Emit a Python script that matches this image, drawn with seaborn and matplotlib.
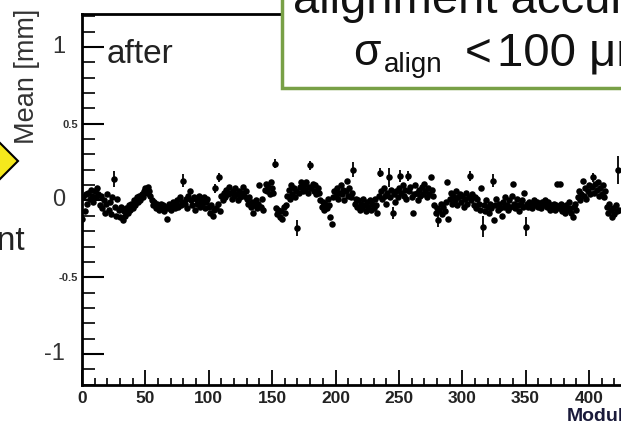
import numpy as np
import pandas as pd
import seaborn as sns
import matplotlib.pyplot as plt
from matplotlib.patches import Rectangle, Polygon
from matplotlib.ticker import MultipleLocator

mean_mm = [
    -0.12, 0.02, -0.07, 0.04, -0.02, 0.05, 0.01, 0.07, 0.03, -0.01, 0.06, 0.02, 0.08, 0.04, -0.03, 0.03, -0.05, 0.0, -0.08, -0.02, 0.04, -0.06, -0.01, -0.09, 0.02,
    0.14, -0.04, -0.1, 0.01, -0.06, -0.11, -0.04, -0.13, -0.07, -0.1, -0.05, -0.08, -0.03, -0.06, -0.02, -0.05, 0.0, -0.03, 0.02, -0.01, 0.03, 0.0, 0.04, 0.02, 0.06,
    0.08, 0.05, 0.09, 0.06, 0.03, 0.0, -0.03, -0.01, -0.05, -0.02, -0.04, -0.06, -0.02, -0.05, -0.03, -0.07, -0.04, -0.12, -0.05, -0.02, -0.06, -0.03, -0.01, -0.05, -0.02,
    0.0, -0.04, 0.02, -0.03, -0.01, 0.13, -0.02, 0.01, -0.05, 0.03, 0.06, 0.0, -0.03, 0.02, -0.06, 0.01, -0.02, 0.03, -0.04, 0.0, -0.02, 0.02, -0.05, -0.01, 0.01,
    -0.04, -0.08, -0.03, -0.1, -0.06, 0.08, -0.05, -0.02, 0.15, -0.07, 0.03, 0.0, 0.05, 0.02, 0.07, 0.04, 0.09, 0.05, 0.01, 0.06, 0.03, 0.08, 0.04, 0.0, 0.06,
    0.02, 0.05, 0.09, 0.03, 0.06, 0.01, -0.02, 0.02, -0.04, -0.01, -0.08, -0.03, 0.0, -0.05, -0.02, 0.1, -0.04, 0.01, -0.06, 0.07, 0.11, 0.06, 0.09, 0.04, 0.12,
    0.08, 0.05, 0.24, -0.05, -0.09, -0.06, -0.11, -0.07, -0.12, -0.04, -0.08, -0.03, 0.03, 0.07, 0.01, 0.1, 0.04, 0.08, 0.02, 0.06, -0.18, 0.05, 0.09, 0.12, 0.06,
    0.1, 0.07, 0.12, 0.05, 0.09, 0.23, 0.08, 0.11, 0.06, 0.1, 0.04, 0.08, 0.05, 0.0, -0.04, -0.01, -0.06, -0.02, -0.05, 0.01, -0.03, -0.11, -0.15, 0.02, 0.06,
    0.03, 0.08, 0.01, 0.05, 0.1, 0.04, 0.07, 0.0, 0.06, 0.13, 0.03, 0.08, 0.02, 0.05, 0.2, -0.02, 0.01, -0.04, 0.0, -0.06, -0.02, -0.05, 0.01, -0.03, -0.07,
    -0.01, -0.04, 0.0, -0.06, -0.02, -0.05, 0.01, -0.03, -0.08, 0.03, 0.18, 0.06, 0.01, 0.08, 0.03, -0.02, 0.05, 0.15, 0.02, 0.07, -0.08, 0.04, -0.01, 0.06, 0.02,
    0.08, 0.16, 0.05, 0.1, 0.03, 0.07, 0.01, 0.16, 0.06, 0.09, 0.02, -0.08, 0.04, 0.1, 0.05, 0.0, 0.07, 0.03, 0.09, 0.04, 0.11, 0.06, 0.02, 0.08, 0.04,
    0.15, 0.07, 0.03, -0.03, -0.08, -0.05, -0.13, -0.06, -0.02, -0.09, -0.04, -0.07, -0.01, 0.12, -0.12, 0.01, 0.05, -0.02, 0.03, 0.0, 0.06, -0.03, 0.02, 0.04, -0.01,
    0.03, -0.04, 0.01, 0.05, -0.02, 0.02, 0.16, 0.0, 0.04, -0.03, 0.02, -0.05, 0.01, -0.02, -0.06, 0.08, -0.17, -0.03, -0.07, 0.0, -0.04, -0.08, -0.02, -0.05, 0.13,
    -0.13, -0.03, 0.01, -0.06, -0.02, -0.05, -0.1, -0.01, -0.04, 0.02, -0.03, -0.06, 0.0, -0.04, 0.03, 0.11, -0.02, -0.05, 0.01, -0.03, -0.07, -0.02, 0.0, -0.04, 0.05,
    -0.17, -0.02, -0.04, -0.01, -0.03, -0.05, -0.02, 0.0, -0.03, -0.01, -0.04, -0.02, -0.05, -0.01, -0.03, 0.0, -0.02, -0.04, -0.01, -0.06, -0.03, -0.05, -0.02, -0.06, -0.03,
    0.11, -0.05, 0.11, -0.02, -0.07, -0.04, -0.08, -0.03, -0.06, -0.01, -0.05, -0.08, -0.11, -0.04, -0.02, -0.06, 0.02, 0.06, 0.0, 0.04, 0.13, 0.03, 0.08, 0.01, 0.06,
    0.1, 0.04, 0.09, 0.15, 0.05, 0.11, 0.07, 0.12, 0.03, 0.08, 0.04, 0.1, 0.02, 0.06, -0.04, -0.08, -0.02, -0.06, -0.11, -0.05, -0.09, -0.03, -0.07, 0.2, -0.06,
]

# modules whose error bar sticks out of the marker
err_modules = [0, 25, 80, 105, 108, 152, 170, 180, 214, 235, 242, 245, 251, 257, 281, 306, 316, 324, 350, 403, 423]
err_mm = [0.07, 0.05, 0.04, 0.03, 0.03, 0.03, 0.05, 0.03, 0.05, 0.03, 0.06, 0.04, 0.04, 0.03, 0.04, 0.03, 0.07, 0.04, 0.06, 0.03, 0.09]

x_ticks = [0, 50, 100, 150, 200, 250, 300, 350, 400]
x_tick_labels = ["0", "50", "100", "150", "200", "250", "300", "350", "400"]
y_ticks = [-1, -0.5, 0, 0.5, 1]
y_small_labels = ["", "-0.5", "", "0.5", ""]
y_big_ticks = [1, 0, -1]
y_big_labels = ["1", "0", "-1"]

sns.set_style("ticks")
plt.rcParams["font.family"] = ["Liberation Sans", "DejaVu Sans"]

W, H = 621, 425


def fpx(x, y):
    # pixel position (from top-left) -> figure fraction
    return x / W, 1 - y / H


fig = plt.figure(figsize=(W / 100, H / 100), dpi=100)
fig.patch.set_facecolor("white")
ax = fig.add_axes([82 / W, 40 / H, 440 * 1.2675 / W, 371 / H])

df = pd.DataFrame({"module": np.arange(len(mean_mm)), "mean": mean_mm})
sns.scatterplot(data=df, x="module", y="mean", ax=ax, color="black", s=22,
                linewidth=0, legend=False, zorder=3)
ax.errorbar(err_modules, [mean_mm[m] for m in err_modules], yerr=err_mm,
            fmt="none", ecolor="black", elinewidth=1.3, capsize=0, zorder=3)

ax.set_xlim(0, 440)
ax.set_ylim(-1.202, 1.215)
ax.set_xlabel("")
ax.set_ylabel("")
ax.xaxis.set_minor_locator(MultipleLocator(10))
ax.yaxis.set_minor_locator(MultipleLocator(0.1))
ax.set_xticks(x_ticks, labels=x_tick_labels, fontweight="bold", fontsize=12.5, color="#222222")
ax.set_yticks(y_ticks, labels=y_small_labels, fontweight="bold", fontsize=8, color="#333333")
ax.tick_params(which="both", direction="in", bottom=True, left=True, top=False,
               right=False, color="black")
ax.tick_params(axis="x", which="major", length=11, width=1.3, pad=4)
ax.tick_params(axis="x", which="minor", length=5, width=1.2)
ax.tick_params(axis="y", which="major", length=16, width=1.5, pad=3)
ax.tick_params(axis="y", which="minor", length=9, width=1.2)
for s in ax.spines.values():
    s.set_visible(True)
    s.set_linewidth(2)
    s.set_color("black")

# large overlay labels on the y axis
for v, lab in zip(y_big_ticks, y_big_labels):
    ax.text(-0.03, v, lab, transform=ax.get_yaxis_transform(), ha="right",
            va="center", fontsize=17, color="#333333")

fig.text(*fpx(27, 76), "Mean [mm]", rotation=90, ha="center", va="center",
         fontsize=19.5, color="#333333")
fig.text(*fpx(567, 408), "Module", ha="left", va="top", fontsize=14,
         fontweight="bold", color="#1a1a3a")
fig.text(*fpx(107, 63), "after", ha="left", va="baseline", fontsize=24, color="#222222")
fig.text(*fpx(25, 250), "alignment", ha="right", va="baseline", fontsize=24, color="#222222")

# yellow arrow head on the left edge
arrow = Polygon([fpx(-6, 137), fpx(18, 161), fpx(-6, 185)], closed=True,
                transform=fig.transFigure, facecolor="#f5e81c", edgecolor="black",
                linewidth=1.5, zorder=5)
fig.patches.append(arrow)

# green framed note box in the top right
x0, y0 = fpx(282, 88)
box = Rectangle((x0, y0), 1.0, 0.5, transform=fig.transFigure, facecolor="white",
                edgecolor="#78a046", linewidth=2.5, zorder=5)
fig.patches.append(box)
fig.text(*fpx(293, 13), "alignment accuracy", ha="left", va="baseline", fontsize=34,
         color="#111111", zorder=6)
fig.text(*fpx(353, 65), "σ", ha="left", va="baseline", fontsize=32, color="#111111", zorder=6)
fig.text(*fpx(384, 72), "align", ha="left", va="baseline", fontsize=20, color="#111111", zorder=6)
fig.text(*fpx(465, 65), "<", ha="left", va="baseline", fontsize=33, color="#111111", zorder=6)
fig.text(*fpx(497, 65), "100 μm", ha="left", va="baseline", fontsize=34, color="#111111", zorder=6)

fig.savefig("out.png", dpi=100)
